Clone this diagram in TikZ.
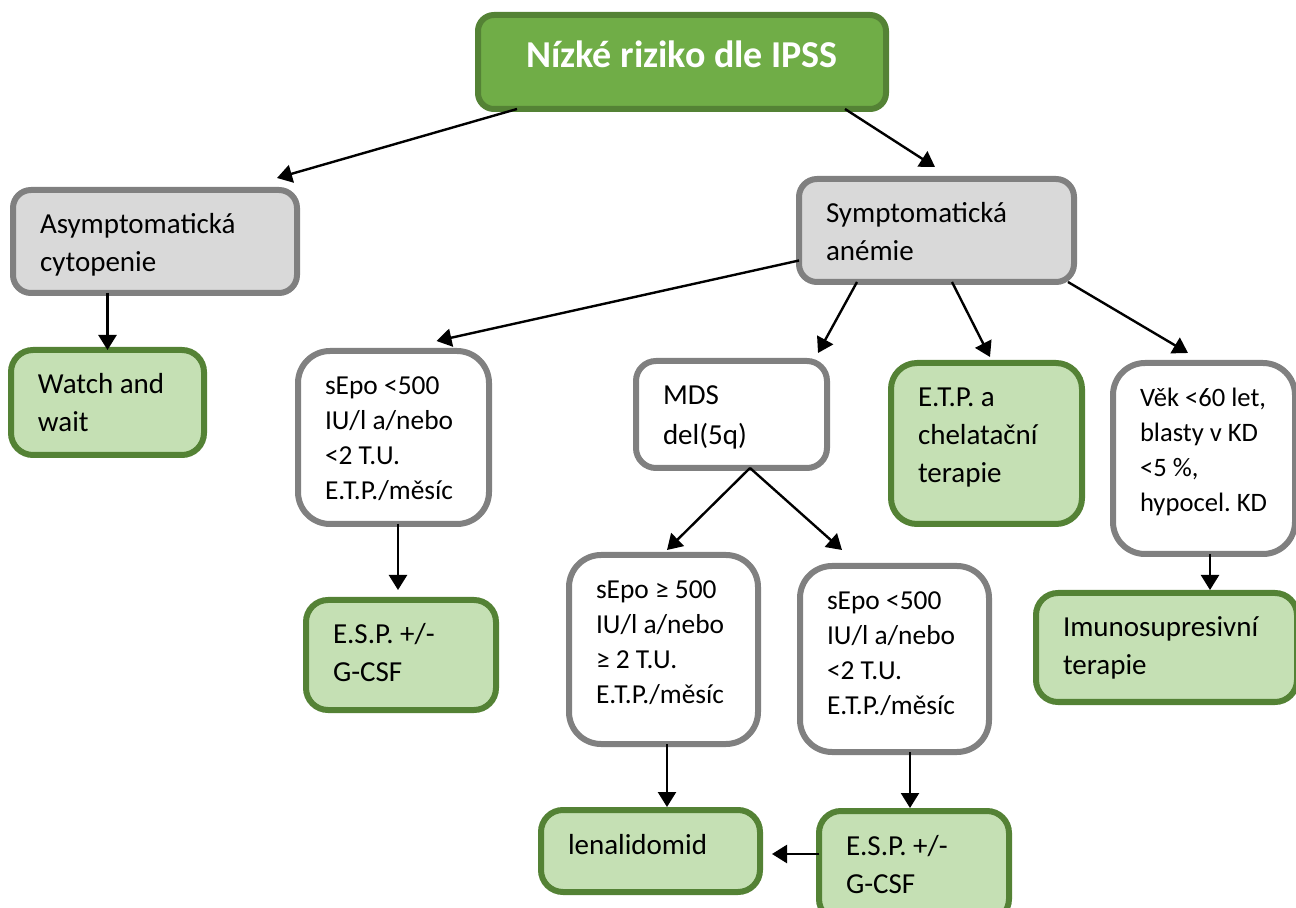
\documentclass[tikz,border=0pt]{standalone}
\usepackage{fontspec}
\setmainfont{Carlito}
\usetikzlibrary{arrows.meta}
\definecolor{titlegreen}{HTML}{70AD47}
\definecolor{darkgreen}{HTML}{548235}
\definecolor{lightgreen}{HTML}{C5E0B4}
\definecolor{boxgray}{HTML}{808080}
\definecolor{fillgray}{HTML}{D9D9D9}

\begin{document}
\begin{tikzpicture}[
    x=0.5pt,
    y=-0.5pt,
    box/.style={
        draw,
        line width=3pt,
        outer sep=0pt,
        inner xsep=13.5pt,
        inner ysep=10pt,
        text height=12pt,
        align=flush left,
        execute at begin node={\spaceskip=0pt\xspaceskip=0pt\relax},
        font=\fontsize{14.5pt}{19pt}\selectfont
    },
    graybox/.style={
        box,
        draw=boxgray,
        fill=fillgray,
        rounded corners=9pt
    },
    whitebox/.style={
        box,
        draw=boxgray,
        fill=white,
        rounded corners=16pt,
        font=\fontsize{13.7pt}{17.5pt}\selectfont
    },
    greenbox/.style={
        box,
        draw=darkgreen,
        fill=lightgreen,
        rounded corners=11pt
    },
    arrow/.style={
        -{Triangle[length=7.5pt,width=9pt]},
        line width=1.2pt
    }
]

    \useasboundingbox (0,0) rectangle (1296,908);

    \node[box,draw=darkgreen,fill=titlegreen,rounded corners=8pt,
        text width=177pt,text height=16.5pt,text depth=10.5pt,
        align=flush center,text=white,
        font=\bfseries\fontsize{19pt}{22pt}\selectfont] (risk)
    at (682,62)
    {Nízké riziko dle IPSS};

    \node[graybox,text width=115pt,text depth=19.5pt] (asym)
    at (155,241.5)
    {Asymptomatická\\cytopenie};

    \node[graybox,text width=110.5pt,text depth=19.5pt] (sympt)
    at (936.5,230.5)
    {Symptomatická\\anémie};

    \node[greenbox,text width=69.5pt,text depth=20.5pt] (watch)
    at (107.5,402.5)
    {Watch and\\wait};

    \node[whitebox,text width=68.5pt,text depth=54.5pt] (sepoA)
    at (393.5,437.5)
    {sEpo <500\\IU/l a/nebo\\<2 T.U.\\E.T.P./měsíc};

    \node[greenbox,text width=68pt,text depth=23pt] (espA)
    at (401,655)
    {E.S.P. +/-\\G-CSF};

    \node[whitebox,rounded corners=10pt,text width=68.5pt,text depth=21.5pt,
        font=\fontsize{14.5pt}{20pt}\selectfont] (mds)
    at (731.5,414.5)
    {MDS\\del(5q)};

    \node[greenbox,rounded corners=13pt,text width=68.5pt,text depth=48.5pt] (etp)
    at (986.5,443.5)
    {E.T.P. a\\chelatační\\terapie};

    \node[whitebox,text width=64pt,text depth=63.5pt,
        font=\fontsize{13.3pt}{17.5pt}\selectfont] (vek)
    at (1204,458.5)
    {Věk~<60~let,\\blasty~v~KD\\<5~\%,\\hypocel.~KD};

    \node[greenbox,text width=103.5pt,text depth=22.5pt] (imuno)
    at (1166.5,647.5)
    {Imunosupresivní\\terapie};

    \node[whitebox,text width=67.5pt,text depth=62.5pt] (sepoB)
    at (663.5,649.5)
    {sEpo ≥ 500\\IU/l a/nebo\\≥ 2 T.U.\\E.T.P./měsíc};

    \node[whitebox,text width=67.5pt,text depth=61pt] (sepoC)
    at (894.5,659)
    {sEpo <500\\IU/l a/nebo\\<2 T.U.\\E.T.P./měsíc};

    \node[greenbox,text width=82.5pt,text depth=9pt] (lena)
    at (650.5,851)
    {lenalidomid};

    \node[greenbox,text width=68pt,text depth=23pt] (espB)
    at (914,866)
    {E.S.P. +/-\\G-CSF};

    \draw[arrow] ([xshift=19.5pt]risk.south west) -- ([xshift=-10pt,yshift=6pt]asym.north east);
    \draw[arrow] ([xshift=-20.5pt]risk.south east) -- ([xshift=-0.75pt,yshift=6pt]sympt.north);

    \draw[arrow] ([xshift=-23.75pt]asym.south) -- (watch.north);

    \draw[arrow] ([yshift=-15pt]sympt.west) -- ([xshift=21.5pt,yshift=5pt]sepoA.north);
    \draw[arrow] ([xshift=29pt]sympt.south west) -- ([xshift=-4.5pt,yshift=4pt]mds.north east);
    \draw[arrow] ([xshift=7.75pt]sympt.south) -- ([xshift=1.75pt,yshift=3pt]etp.north);
    \draw[arrow] ([xshift=-3pt]sympt.south east) -- ([xshift=-8pt,yshift=5pt]vek.north);

    \draw[arrow] ([xshift=2.25pt]sepoA.south) -- ([xshift=-1.5pt,yshift=5pt]espA.north);

    \draw[arrow] ([xshift=9.25pt]mds.south) -- ([xshift=1.75pt,yshift=2.5pt]sepoB.north);
    \draw[arrow] ([xshift=9.25pt]mds.south) -- ([xshift=21pt,yshift=8pt]sepoC.north west);

    \draw[arrow] ([xshift=1.75pt]sepoB.south) -- ([xshift=8.25pt,yshift=1.5pt]lena.north);
    \draw[arrow] ([xshift=7.75pt]sepoC.south) -- ([xshift=-2pt,yshift=1.5pt]espB.north);
    \draw[arrow] ([yshift=6pt]espB.west) -- ([xshift=6pt,yshift=-1.5pt]lena.east);

    \draw[arrow] ([xshift=3pt]vek.south) -- ([xshift=21.75pt,yshift=1.5pt]imuno.north);

\end{tikzpicture}
\end{document}
